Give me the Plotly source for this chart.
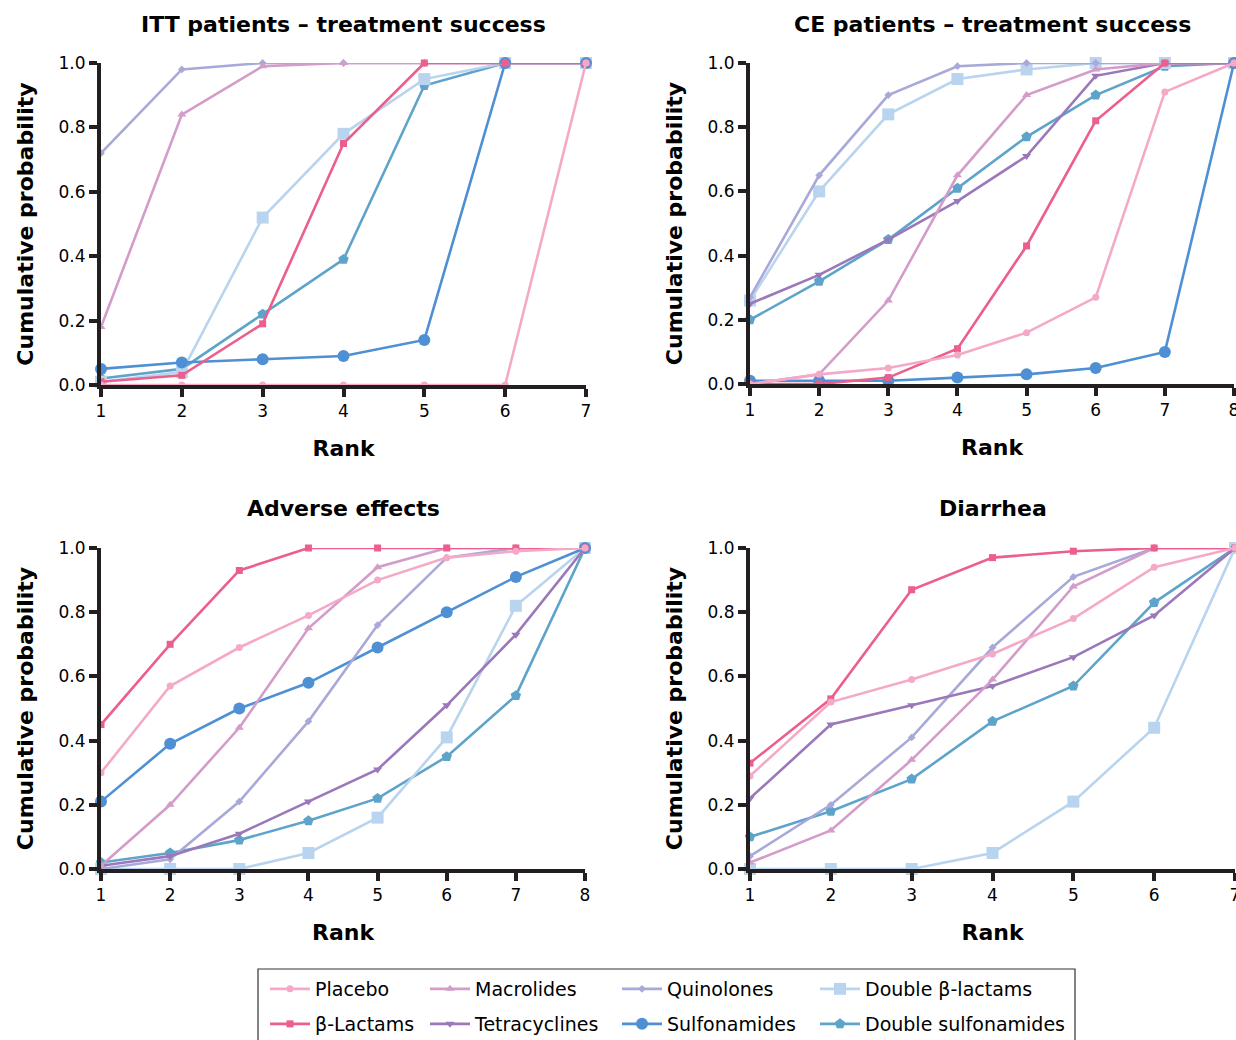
import plotly.graph_objects as go

W, H = 1236, 1040

treatments = ["Placebo", "β-Lactams", "Macrolides", "Tetracyclines",
              "Quinolones", "Sulfonamides", "Double β-lactams", "Double sulfonamides"]

colors = {
    "Placebo": "#F5A9C9",
    "β-Lactams": "#EC5E8C",
    "Macrolides": "#D39CC9",
    "Tetracyclines": "#9B78B9",
    "Quinolones": "#A9A9D9",
    "Sulfonamides": "#4E90D3",
    "Double β-lactams": "#B9D4EF",
    "Double sulfonamides": "#5EA4CA",
}
symbols = {
    "Placebo": ("circle", 7),
    "β-Lactams": ("square", 7),
    "Macrolides": ("triangle-up", 8),
    "Tetracyclines": ("triangle-down", 8),
    "Quinolones": ("diamond", 6),
    "Sulfonamides": ("circle", 12),
    "Double β-lactams": ("square", 12),
    "Double sulfonamides": ("pentagon", 11),
}

# Panel 1: ITT patients – treatment success (ranks 1-7)
itt_ranks = [1, 2, 3, 4, 5, 6, 7]
itt = {
    "Placebo": [0.0, 0.0, 0.0, 0.0, 0.0, 0.0, 1.0],
    "β-Lactams": [0.01, 0.03, 0.19, 0.75, 1.0, 1.0, 1.0],
    "Macrolides": [0.18, 0.84, 0.99, 1.0, 1.0, 1.0, 1.0],
    "Quinolones": [0.72, 0.98, 1.0, 1.0, 1.0, 1.0, 1.0],
    "Sulfonamides": [0.05, 0.07, 0.08, 0.09, 0.14, 1.0, 1.0],
    "Double β-lactams": [0.01, 0.04, 0.52, 0.78, 0.95, 1.0, 1.0],
    "Double sulfonamides": [0.02, 0.05, 0.22, 0.39, 0.93, 1.0, 1.0],
}

# Panel 2: CE patients – treatment success (ranks 1-8)
ce_ranks = [1, 2, 3, 4, 5, 6, 7, 8]
ce = {
    "Placebo": [0.0, 0.03, 0.05, 0.09, 0.16, 0.27, 0.91, 1.0],
    "β-Lactams": [0.0, 0.0, 0.02, 0.11, 0.43, 0.82, 1.0, 1.0],
    "Macrolides": [0.0, 0.03, 0.26, 0.65, 0.90, 0.98, 1.0, 1.0],
    "Tetracyclines": [0.25, 0.34, 0.45, 0.57, 0.71, 0.96, 1.0, 1.0],
    "Quinolones": [0.27, 0.65, 0.90, 0.99, 1.0, 1.0, 1.0, 1.0],
    "Sulfonamides": [0.01, 0.01, 0.01, 0.02, 0.03, 0.05, 0.10, 1.0],
    "Double β-lactams": [0.26, 0.60, 0.84, 0.95, 0.98, 1.0, 1.0, 1.0],
    "Double sulfonamides": [0.20, 0.32, 0.45, 0.61, 0.77, 0.90, 0.99, 1.0],
}

# Panel 3: Adverse effects (ranks 1-8)
ae_ranks = [1, 2, 3, 4, 5, 6, 7, 8]
ae = {
    "Placebo": [0.30, 0.57, 0.69, 0.79, 0.90, 0.97, 0.99, 1.0],
    "β-Lactams": [0.45, 0.70, 0.93, 1.0, 1.0, 1.0, 1.0, 1.0],
    "Macrolides": [0.01, 0.20, 0.44, 0.75, 0.94, 1.0, 1.0, 1.0],
    "Tetracyclines": [0.01, 0.04, 0.11, 0.21, 0.31, 0.51, 0.73, 1.0],
    "Quinolones": [0.0, 0.03, 0.21, 0.46, 0.76, 0.97, 1.0, 1.0],
    "Sulfonamides": [0.21, 0.39, 0.50, 0.58, 0.69, 0.80, 0.91, 1.0],
    "Double β-lactams": [0.0, 0.0, 0.0, 0.05, 0.16, 0.41, 0.82, 1.0],
    "Double sulfonamides": [0.02, 0.05, 0.09, 0.15, 0.22, 0.35, 0.54, 1.0],
}

# Panel 4: Diarrhea (ranks 1-7)
dia_ranks = [1, 2, 3, 4, 5, 6, 7]
dia = {
    "Placebo": [0.29, 0.52, 0.59, 0.67, 0.78, 0.94, 1.0],
    "β-Lactams": [0.33, 0.53, 0.87, 0.97, 0.99, 1.0, 1.0],
    "Macrolides": [0.02, 0.12, 0.34, 0.59, 0.88, 1.0, 1.0],
    "Tetracyclines": [0.22, 0.45, 0.51, 0.57, 0.66, 0.79, 1.0],
    "Quinolones": [0.04, 0.20, 0.41, 0.69, 0.91, 1.0, 1.0],
    "Double β-lactams": [0.0, 0.0, 0.0, 0.05, 0.21, 0.44, 1.0],
    "Double sulfonamides": [0.10, 0.18, 0.28, 0.46, 0.57, 0.83, 1.0],
}

panel_titles = ["ITT patients – treatment success", "CE patients – treatment success",
                "Adverse effects", "Diarrhea"]
y_ticks = [0.0, 0.2, 0.4, 0.6, 0.8, 1.0]

panels = [(itt_ranks, itt), (ce_ranks, ce), (ae_ranks, ae), (dia_ranks, dia)]

FONT = "'DejaVu Sans', Arial, sans-serif"
AXC = "#231F20"

# legend layout: row-major placement of entries
legend_order = ["Placebo", "Macrolides", "Quinolones", "Double β-lactams",
                "β-Lactams", "Tetracyclines", "Sulfonamides", "Double sulfonamides"]
col_px = [265, 425, 617, 815]
row_px = [989, 1024]
legend_ids = {}
for i, name in enumerate(legend_order):
    legend_ids[name] = "legend" if i == 0 else f"legend{i + 1}"

fig = go.Figure()
shown = set()
for p, (ranks, data) in enumerate(panels):
    ax = "" if p == 0 else str(p + 1)
    for name in reversed(treatments):
        if name not in data:
            continue
        sym, size = symbols[name]
        show = name not in shown
        shown.add(name)
        fig.add_trace(go.Scatter(
            x=ranks, y=data[name], name=name, mode="lines+markers",
            line=dict(color=colors[name], width=2.6),
            marker=dict(symbol=sym, size=size, color=colors[name]),
            xaxis="x" + ax, yaxis="y" + ax, cliponaxis=False,
            showlegend=show, legend=legend_ids[name],
        ))

x_doms = [[101 / W, 586 / W], [750 / W, 1234 / W], [101 / W, 585 / W], [750 / W, 1235 / W]]
y_doms = [[1 - 385 / H, 1 - 63 / H], [1 - 384 / H, 1 - 63 / H],
          [1 - 869 / H, 1 - 548 / H], [1 - 869 / H, 1 - 548 / H]]

axis_common = dict(showline=True, linecolor=AXC, linewidth=4, ticks="outside",
                   ticklen=8, tickwidth=4, tickcolor=AXC, showgrid=False, zeroline=False,
                   automargin=False, ticklabeloverflow="allow",
                   tickfont=dict(size=17, color="#000", family=FONT))

layout = dict(width=W, height=H, margin=dict(l=0, r=0, t=0, b=0, pad=0, autoexpand=False),
              paper_bgcolor="white", plot_bgcolor="white",
              font=dict(family=FONT, color="#000"))
annotations = []
for p, (ranks, data) in enumerate(panels):
    ax = "" if p == 0 else str(p + 1)
    layout["xaxis" + ax] = dict(
        axis_common, domain=x_doms[p], range=[ranks[0], ranks[-1]],
        tickvals=ranks, anchor="y" + ax,
        title=dict(text="Rank", font=dict(size=22, weight="bold", family=FONT), standoff=21))
    layout["yaxis" + ax] = dict(
        axis_common, domain=y_doms[p], range=[0, 1], tickvals=y_ticks,
        tickformat=".1f", anchor="x" + ax,
        title=dict(text="Cumulative probability", font=dict(size=22, weight="bold", family=FONT),
                   standoff=20))
    annotations.append(dict(
        text=panel_titles[p], x=sum(x_doms[p]) / 2, y=1 - (24 if p < 2 else 508) / H,
        xref="paper", yref="paper", xanchor="center", yanchor="middle", showarrow=False,
        font=dict(size=22, weight="bold", family=FONT, color="#000")))

for i, name in enumerate(legend_order):
    lid = legend_ids[name]
    layout[lid] = dict(
        x=col_px[i % 4] / W, y=1 - row_px[i // 4] / H, xanchor="left", yanchor="middle",
        orientation="v", bgcolor="rgba(0,0,0,0)", borderwidth=0, itemwidth=40,
        font=dict(size=19, family=FONT, color="#000"))

layout["annotations"] = annotations
layout["shapes"] = [dict(type="rect", xref="paper", yref="paper",
                         x0=258 / W, x1=1075 / W, y0=-0.01, y1=1 - 969 / H,
                         line=dict(color="#333", width=1.2), fillcolor="rgba(0,0,0,0)")]
fig.update_layout(**layout)

fig.write_html("out.html", config={"displayModeBar": False},
               post_script="document.body.style.margin='0';")
